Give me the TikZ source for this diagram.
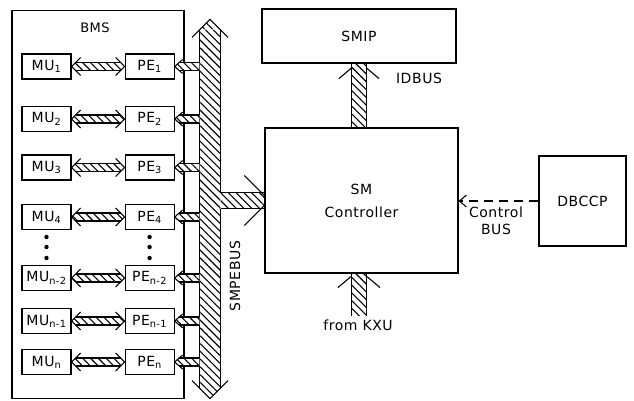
\documentclass[tikz,border=0pt]{standalone}
\usepackage{fontspec}
\setmainfont{DejaVu Sans}[LetterSpace=4]
\usepackage{tikz}
\usetikzlibrary{arrows.meta, positioning, calc, patterns.meta}
\tikzset{
  blk/.style={draw, line width=1.1pt, inner sep=0pt},
  unit/.style={blk, minimum width=49pt, minimum height=25pt},
  hatch/.style={preaction={fill=white}, pattern={Lines[angle=-45, distance=5.5pt, line width=1.1pt]}}
}

\begin{document}
\begin{tikzpicture}[x=1pt, y=-1pt, line width=1.1pt,
    every node/.style={font=\fontsize{14}{17}\selectfont}]
    \useasboundingbox (0,0) rectangle (634,400);
    \node[blk, minimum width=172pt, minimum height=388pt] (bms) at (98,204.5) {};
    \node[font=\fontsize{13}{15}\selectfont] (bmslbl) at (95,28) {BMS};
    \foreach \i/\y/\s in {1/66.5/1, 2/119/2, 3/167.5/3, 4/217/4, 5/278/{n-2}, 6/321/{n-1}, 7/362/n} {
      \node[unit] (mu\i) at (46.5,\y) {MU\textsubscript{\s}};
      \node[unit, right=53pt of mu\i] (pe\i) {PE\textsubscript{\s}};
    }
    \foreach \d in {237,247,258} {
      \fill (mu4.south |- 0,\d) circle[radius=2.2pt];
      \fill (pe4.south |- 0,\d) circle[radius=2.2pt];
    }

    \node[blk, minimum width=194pt, minimum height=54pt] (smip) at (359,36) {SMIP};
    \node[blk, minimum width=193pt, minimum height=145pt, align=center,
          font=\fontsize{14}{23}\selectfont] (ctrl) at (361.5,200.5) {SM\\Controller};
    \node[blk, minimum width=87pt, minimum height=90pt] (dbccp) at (582.5,201) {DBCCP};
    \node (idlbl) at (419,78) {IDBUS};
    \node (kxu) at (358,325) {from KXU};
    \node[align=center] (cbus) at (496,221) {Control\\BUS};

    \node[hatch, minimum width=20pt, minimum height=358pt, inner sep=0pt] (bus) at (210,209) {};
    \node[rotate=90] (buslbl) at (235,276) {SMPEBUS};
    \path[hatch] (bus.north west) -- ++(10pt,10pt) -- (bus.north east) -- cycle;
    \path[hatch] (bus.south west) -- ++(10pt,-10pt) -- (bus.south east) -- cycle;
    \draw ($(bus.north)+(-18pt,-8pt)$) -- ($(bus.north)+(0,10pt)$) -- ($(bus.north)+(18pt,-8pt)$);
    \draw ($(bus.south)+(-18pt,8pt)$) -- ($(bus.south)+(0,-10pt)$) -- ($(bus.south)+(18pt,8pt)$);
    \draw (bus.north west) -- (bus.south west);

    \foreach \i in {1,...,7} {
      \path[hatch] (mu\i.east) -- ++(4pt,4pt) -- ($(pe\i.west)+(-4pt,4pt)$) -- (pe\i.west)
        -- ++(-4pt,-4pt) -- ($(mu\i.east)+(4pt,-4pt)$) -- cycle;
      \draw ($(mu\i.east)+(4pt,4pt)$) -- ($(pe\i.west)+(-4pt,4pt)$)
            ($(mu\i.east)+(4pt,-4pt)$) -- ($(pe\i.west)+(-4pt,-4pt)$);
      \draw ($(mu\i.east)+(9pt,9pt)$) -- (mu\i.east) -- ($(mu\i.east)+(9pt,-9pt)$);
      \draw ($(pe\i.west)+(-9pt,9pt)$) -- (pe\i.west) -- ($(pe\i.west)+(-9pt,-9pt)$);
      \path[hatch] (pe\i.east) -- ++(4pt,4pt) -- ($(pe\i.east -| bus.west)+(0,4pt)$)
        -- ++(0,-8pt) -- ($(pe\i.east)+(4pt,-4pt)$) -- cycle;
      \draw ($(pe\i.east)+(4pt,4pt)$) -- ($(pe\i.east -| bus.west)+(0,4pt)$)
            ($(pe\i.east)+(4pt,-4pt)$) -- ($(pe\i.east -| bus.west)+(0,-4pt)$);
      \draw ($(pe\i.east)+(8pt,7pt)$) -- (pe\i.east) -- ($(pe\i.east)+(8pt,-7pt)$);
    }

    \path[hatch] ($(ctrl.west -| bus.east)+(0,8pt)$) rectangle ($(ctrl.west)+(0,-8pt)$);
    \draw ($(ctrl.west -| bus.east)+(0,8pt)$) -- ($(ctrl.west)+(0,8pt)$)
          ($(ctrl.west -| bus.east)+(0,-8pt)$) -- ($(ctrl.west)+(0,-8pt)$);
    \draw ($(ctrl.west)+(-20pt,25pt)$) -- ($(ctrl.west)+(0,5pt)$)
          ($(ctrl.west)+(-20pt,-25pt)$) -- ($(ctrl.west)+(0,-5pt)$);
    \draw (bus.north east) -- ($(ctrl.west -| bus.east)+(0,8pt)$)
          ($(ctrl.west -| bus.east)+(0,-8pt)$) -- (bus.south east);

    \path[hatch] ($(smip.south)+(-7.5pt,0)$) rectangle ($(smip.south |- ctrl.north)+(7.5pt,0)$);
    \draw ($(smip.south)+(-7.5pt,0)$) -- ($(smip.south |- ctrl.north)+(-7.5pt,0)$)
          ($(smip.south)+(7.5pt,0)$) -- ($(smip.south |- ctrl.north)+(7.5pt,0)$);
    \draw ($(smip.south)+(-20pt,-15pt)$) -- ($(smip.south)+(-7pt,-4pt)$)
          ($(smip.south)+(20pt,-15pt)$) -- ($(smip.south)+(7pt,-4pt)$);

    \path[hatch] ($(ctrl.south -| smip.south)+(-7.5pt,0)$) rectangle ($(kxu.north -| smip.south)+(7.5pt,0)$);
    \draw ($(ctrl.south -| smip.south)+(-7.5pt,0)$) -- ($(kxu.north -| smip.south)+(-7.5pt,0)$)
          ($(ctrl.south -| smip.south)+(7.5pt,0)$) -- ($(kxu.north -| smip.south)+(7.5pt,0)$);
    \draw ($(ctrl.south -| smip.south)+(-21pt,-14pt)$) -- ($(ctrl.south -| smip.south)+(-8pt,-3pt)$)
          ($(ctrl.south -| smip.south)+(21pt,-14pt)$) -- ($(ctrl.south -| smip.south)+(8pt,-3pt)$);

    \draw[dash pattern=on 9pt off 6pt, -{Straight Barb[length=7pt, width=12pt]}]
      (dbccp.west) -- (dbccp.west -| ctrl.east);
  \end{tikzpicture}
\end{document}
